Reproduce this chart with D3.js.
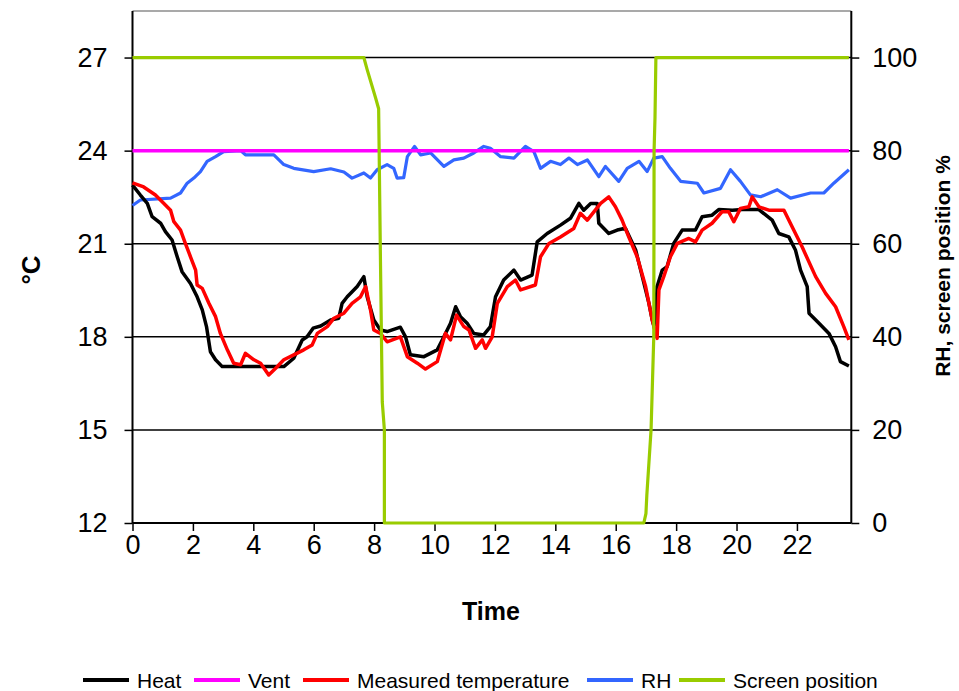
<!DOCTYPE html>
<html>
<head>
<meta charset="utf-8">
<script src="https://cdn.jsdelivr.net/npm/d3@7"></script>
<style>
  html, body { margin: 0; padding: 0; background: #fff; }
  svg { display: block; font-family: "Liberation Sans", Arial, sans-serif; }
</style>
</head>
<body>
<svg id="chart" width="959" height="691"></svg>
<script>
// Greenhouse climate over one day: temperature setpoints, measured temperature,
// relative humidity and thermal screen position.

const heatHours = [0, 0.26, 0.49, 0.65, 0.93, 1.09, 1.31, 1.48, 1.64, 1.92, 2.14, 2.31, 2.45, 2.58, 2.75, 2.97,
  5.01, 5.34, 5.62, 5.78, 5.98, 6.23, 6.56, 6.83, 6.94, 7.11, 7.44, 7.66, 7.77, 7.99, 8.21, 8.43, 8.87,
  9.04, 9.2, 9.65, 10.09, 10.31, 10.53, 10.7, 10.86, 11.08, 11.3, 11.63, 11.85, 12.02, 12.29, 12.63,
  12.85, 13.23, 13.4, 13.73, 14.17, 14.5, 14.78, 14.94, 15.17, 15.39, 15.44, 15.77, 16.05, 16.32,
  16.66, 16.88, 17.1, 17.21, 17.3, 17.37, 17.54, 17.7, 17.92, 18.2, 18.64, 18.86, 19.19, 19.41,
  19.86, 20.19, 20.74, 21.18, 21.4, 21.73, 21.95, 22.12, 22.34, 22.4, 22.73, 23.06, 23.28, 23.44, 23.72];
const heatTemp = [22.89, 22.57, 22.3, 21.87, 21.66, 21.39, 21.12, 20.58, 20.1, 19.72, 19.29, 18.87, 18.33, 17.52, 17.26, 17.04,
  17.04, 17.31, 17.9, 18.0, 18.28, 18.35, 18.54, 18.6, 19.08, 19.29, 19.62, 19.94, 19.29, 18.54, 18.22, 18.17, 18.31,
  18.0, 17.42, 17.36, 17.58, 18.0, 18.44, 18.97, 18.65, 18.44, 18.11, 18.06, 18.33, 19.29, 19.83, 20.15,
  19.83, 19.99, 21.06, 21.33, 21.6, 21.82, 22.3, 22.08, 22.3, 22.3, 21.66, 21.33, 21.44, 21.5,
  20.8, 19.94, 19.08, 18.54, 18.22, 19.62, 20.15, 20.26, 21.01, 21.44, 21.44, 21.87, 21.92, 22.1,
  22.08, 22.1, 22.1, 21.76, 21.33, 21.22, 20.8, 20.15, 19.62, 18.76, 18.44, 18.11, 17.68, 17.2, 17.06];

const ventHours = [0, 23.72];
const ventTemp = [24, 24];

const measHours = [0, 0.37, 0.76, 1.04, 1.26, 1.37, 1.59, 1.75, 1.92, 2.09, 2.14, 2.31, 2.53, 2.75, 2.91, 3.14,
  3.35, 3.58, 3.74, 4.02, 4.24, 4.51, 4.74, 5.01, 5.34, 5.67, 5.95, 6.12, 6.45, 6.67, 7.0, 7.27, 7.55,
  7.72, 7.88, 7.99, 8.21, 8.43, 8.87, 9.1, 9.43, 9.7, 10.09, 10.36, 10.53, 10.73, 10.97, 11.14, 11.36,
  11.58, 11.69, 11.91, 12.08, 12.41, 12.68, 12.85, 13.34, 13.51, 13.79, 14.17, 14.61, 14.83, 15.06,
  15.5, 15.77, 15.99, 16.21, 16.43, 16.71, 16.99, 17.21, 17.37, 17.43, 17.59, 17.81, 18.04, 18.42,
  18.64, 18.86, 19.19, 19.52, 19.74, 19.91, 20.13, 20.41, 20.52, 20.74, 21.07, 21.57, 21.84, 22.17,
  22.62, 22.95, 23.28, 23.55, 23.72];
const measTemp = [22.96, 22.83, 22.57, 22.3, 22.08, 21.71, 21.44, 21.01, 20.58, 20.15, 19.67, 19.56, 19.08, 18.65, 18.11, 17.58,
  17.15, 17.1, 17.47, 17.26, 17.15, 16.77, 16.99, 17.26, 17.42, 17.58, 17.74, 18.11, 18.33, 18.6, 18.76, 19.08, 19.29,
  19.62, 18.87, 18.22, 18.11, 17.84, 18.0, 17.36, 17.15, 16.96, 17.2, 18.11, 17.9, 18.7, 18.33, 18.22, 17.63,
  17.9, 17.63, 18.0, 19.08, 19.62, 19.83, 19.51, 19.67, 20.58, 21.01, 21.22, 21.49, 21.98, 21.76,
  22.3, 22.51, 22.19, 21.76, 21.22, 20.58, 19.62, 18.54, 17.95, 19.51, 19.94, 20.58, 21.01, 21.17,
  21.06, 21.44, 21.66, 22.03, 22.03, 21.71, 22.14, 22.19, 22.51, 22.19, 22.08, 22.08, 21.55, 20.9,
  19.94, 19.4, 18.97, 18.33, 17.9];

const rhHours = [0, 0.26, 1.26, 1.59, 1.81, 2.03, 2.25, 2.47, 2.75, 3.02, 3.58, 3.74, 4.68, 5.01, 5.34, 6.0,
  6.56, 7.0, 7.27, 7.66, 7.88, 8.1, 8.43, 8.65, 8.76, 8.98, 9.1, 9.34, 9.54, 9.87, 10.31, 10.64, 10.97,
  11.3, 11.63, 11.85, 12.19, 12.63, 13.01, 13.29, 13.51, 13.84, 14.17, 14.45, 14.73, 15.06, 15.44,
  15.66, 16.1, 16.38, 16.77, 17.04, 17.26, 17.54, 17.81, 18.15, 18.7, 18.92, 19.47, 19.8, 20.13,
  20.46, 20.8, 21.35, 21.79, 22.45, 22.89, 23.22, 23.72];
const rhValue = [68.2, 69.4, 69.8, 70.9, 73.0, 74.1, 75.5, 77.7, 78.7, 79.8, 80.0, 79.1, 79.1, 77.0, 76.2, 75.5,
  76.1, 75.4, 74.1, 75.2, 74.1, 75.9, 77.0, 76.2, 74.1, 74.2, 78.7, 80.9, 79.1, 79.5, 76.6, 78.0, 78.4,
  79.5, 80.9, 80.5, 78.7, 78.4, 80.9, 79.8, 76.2, 77.7, 77.0, 78.4, 77.0, 78.0, 74.4,
  76.6, 73.4, 76.2, 77.7, 75.5, 78.4, 78.7, 76.2, 73.4, 73.0, 70.9, 71.9, 75.9, 73.4,
  70.5, 70.1, 71.6, 69.8, 70.9, 70.9, 73.0, 75.9];

const screenHours = [0, 7.66, 7.77, 8.05, 8.15, 8.21, 8.27, 8.34, 8.34, 16.93, 17.0, 17.03, 17.17, 17.26, 17.27, 17.3, 17.33, 23.72];
const screenPos = [100, 100, 97.4, 91.3, 89, 56.5, 26, 20, 0, 0, 2, 6, 20, 40, 80, 87, 100, 100];

const tempTicks = [12, 15, 18, 21, 24, 27];
const pctTicks = [0, 20, 40, 60, 80, 100];
const hourTicks = [0, 2, 4, 6, 8, 10, 12, 14, 16, 18, 20, 22];

const seriesNames = ["Heat", "Vent", "Measured temperature", "RH", "Screen position"];
const seriesColors = ["#000000", "#ff00ff", "#ff0000", "#3366ff", "#99cc00"];

(function draw() {
  // plot area edges
  const pLeft = 132.5, pRight = 851.3, pTop = 11, pBottom = 523;
  const svg = d3.select("#chart");

  const x = d3.scaleLinear().domain([0, 23.8]).range([pLeft, pRight]);
  const yT = d3.scaleLinear().domain([12, 28.5]).range([pBottom, pTop]);
  const yP = d3.scaleLinear().domain([0, 110]).range([pBottom, pTop]);

  // plot frame top edge
  svg.append("line")
    .attr("x1", pLeft).attr("x2", pRight).attr("y1", pTop).attr("y2", pTop)
    .attr("stroke", "#8c8c8c").attr("stroke-width", 1.5);

  // horizontal gridlines
  svg.append("g").selectAll("line").data(tempTicks.slice(1)).join("line")
    .attr("x1", pLeft).attr("x2", pRight)
    .attr("y1", d => yT(d)).attr("y2", d => yT(d))
    .attr("stroke", "#000").attr("stroke-width", 1.5);

  // axes
  const fs = 27;
  const gL = svg.append("g").attr("transform", `translate(${pLeft},0)`)
    .call(d3.axisLeft(yT).tickValues(tempTicks).tickSize(8).tickPadding(17).tickFormat(d3.format("d")));
  const gR = svg.append("g").attr("transform", `translate(${pRight},0)`)
    .call(d3.axisRight(yP).tickValues(pctTicks).tickSize(8).tickPadding(13).tickFormat(d3.format("d")));
  const gB = svg.append("g").attr("transform", `translate(0,${pBottom})`)
    .call(d3.axisBottom(x).tickValues(hourTicks).tickSize(8).tickPadding(4).tickFormat(d3.format("d")));

  [gL, gR, gB].forEach(g => {
    g.select(".domain").attr("stroke", "#000").attr("stroke-width", 2);
    g.selectAll(".tick line").attr("stroke", "#000").attr("stroke-width", 1.5);
    g.selectAll(".tick text").attr("fill", "#000")
      .style("font-size", fs + "px")
      .style("font-family", '"Liberation Sans", Arial, sans-serif');
  });
  gB.select(".domain").attr("d", `M${pLeft},0H${pRight}`);
  gL.select(".domain").attr("d", `M0,${pBottom}V${pTop}`);
  gR.select(".domain").attr("d", `M0,${pBottom}V${pTop}`);

  // series
  const lineT = d3.line().x(d => x(d[0])).y(d => yT(d[1]));
  const lineP = d3.line().x(d => x(d[0])).y(d => yP(d[1]));
  const zip = (a, b) => a.map((v, i) => [v, b[i]]);

  const plot = svg.append("g");
  plot.append("path").datum(zip(rhHours, rhValue)).attr("d", lineP)
    .attr("fill", "none").attr("stroke", seriesColors[3]).attr("stroke-width", 3.2).attr("stroke-linejoin", "round");
  plot.append("path").datum(zip(ventHours, ventTemp)).attr("d", lineT)
    .attr("fill", "none").attr("stroke", seriesColors[1]).attr("stroke-width", 3.5);
  plot.append("path").datum(zip(heatHours, heatTemp)).attr("d", lineT)
    .attr("fill", "none").attr("stroke", seriesColors[0]).attr("stroke-width", 3.5).attr("stroke-linejoin", "round");
  plot.append("path").datum(zip(measHours, measTemp)).attr("d", lineT)
    .attr("fill", "none").attr("stroke", seriesColors[2]).attr("stroke-width", 3.5).attr("stroke-linejoin", "round");
  plot.append("path").datum(zip(screenHours, screenPos)).attr("d", lineP)
    .attr("fill", "none").attr("stroke", seriesColors[4]).attr("stroke-width", 3.2).attr("stroke-linejoin", "round");

  // axis titles
  svg.append("text").attr("transform", "translate(40,270) rotate(-90)")
    .attr("text-anchor", "middle").attr("font-weight", "bold").attr("font-size", 26)
    .text("°C");
  svg.append("text").attr("transform", "translate(950,266) rotate(-90)")
    .attr("text-anchor", "middle").attr("font-weight", "bold").attr("font-size", 21)
    .text("RH, screen position %");
  svg.append("text").attr("x", 491).attr("y", 620)
    .attr("text-anchor", "middle").attr("font-weight", "bold").attr("font-size", 25)
    .text("Time");

  // legend
  const legendX = [83, 194, 303, 587, 679];
  const legend = svg.append("g").attr("transform", "translate(0,680)");
  seriesNames.forEach((name, i) => {
    legend.append("line").attr("x1", legendX[i]).attr("x2", legendX[i] + 46)
      .attr("y1", 0).attr("y2", 0).attr("stroke", seriesColors[i]).attr("stroke-width", 4);
    legend.append("text").attr("x", legendX[i] + 54).attr("y", 0).attr("dy", "0.36em")
      .attr("font-size", 21).attr("fill", "#000").text(name);
  });
})();
</script>
</body>
</html>
